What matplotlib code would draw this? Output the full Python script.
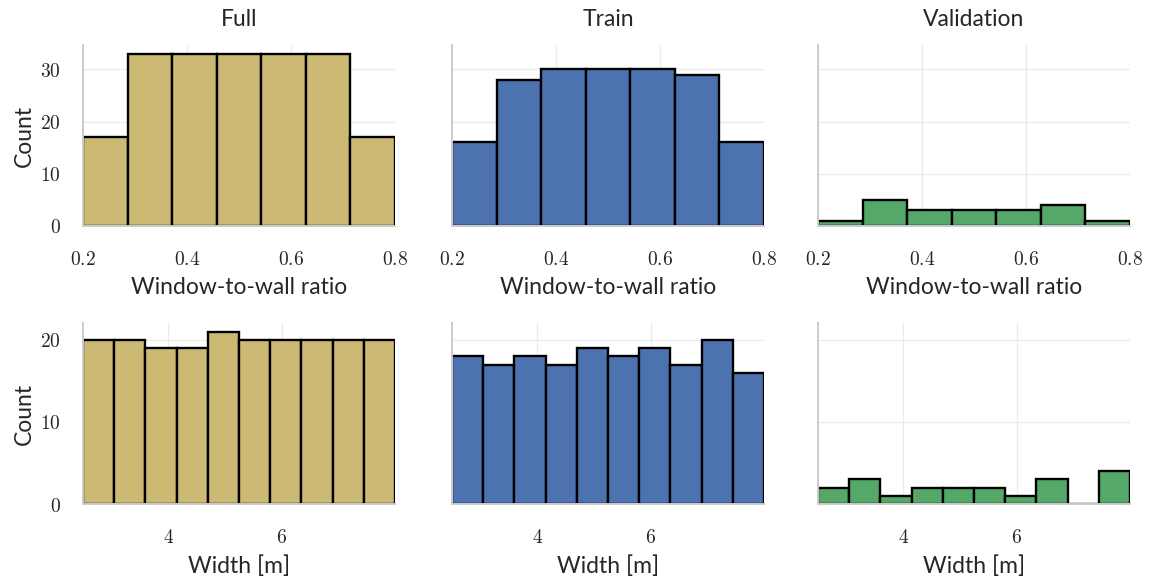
import matplotlib
matplotlib.use('Agg')
import matplotlib.pyplot as plt
import numpy as np

# window-to-wall ratio histograms (7 bins over 0.2 .. 0.8)
wwr_edges = np.linspace(0.2, 0.8, 8)
wwr_full = [17, 33, 33, 33, 33, 33, 17]
wwr_train = [16, 28, 30, 30, 30, 29, 16]
wwr_val = [1, 5, 3, 3, 3, 4, 1]

# width histograms (10 bins over 2.5 .. 8.0 m)
width_edges = np.linspace(2.5, 8.0, 11)
width_full = [20, 20, 19, 19, 21, 20, 20, 20, 20, 20]
width_train = [18, 17, 18, 17, 19, 18, 19, 17, 20, 16]
width_val = [2, 3, 1, 2, 2, 2, 1, 3, 0, 4]

titles = ["Full", "Train", "Validation"]
colors = ["#CCB974", "#4C72B0", "#55A868"]

wwr_xticks = [0.2, 0.4, 0.6, 0.8]
wwr_xticklabels = ["0.2", "0.4", "0.6", "0.8"]
wwr_yticks = [0, 10, 20, 30]
width_xticks = [4, 6]
width_xticklabels = ["4", "6"]
width_yticks = [0, 10, 20]

plt.rcParams['font.family'] = ['Lato', 'DejaVu Sans']
plt.rcParams['mathtext.fontset'] = 'cm'

fig = plt.figure(figsize=(11.51, 5.78), dpi=100)

lefts = [0.0721, 0.3927, 0.7107]
bottoms = [0.609, 0.128]
w, h = 0.2711, 0.313

rows = [
    (wwr_edges, [wwr_full, wwr_train, wwr_val], wwr_xticks, wwr_xticklabels, wwr_yticks, "Window-to-wall ratio"),
    (width_edges, [width_full, width_train, width_val], width_xticks, width_xticklabels, width_yticks, "Width [m]"),
]

for r, (edges, series, xt, xtl, yt, xlabel) in enumerate(rows):
    first = None
    for c in range(3):
        ax = fig.add_axes([lefts[c], bottoms[r], w, h], sharey=first)
        if first is None:
            first = ax
        ax.hist(edges[:-1], bins=edges, weights=series[c], color=colors[c],
                edgecolor='black', linewidth=1.7)
        ax.set_xlim(edges[0], edges[-1])
        ax.set_xticks(xt)
        ax.set_xticklabels(["$%s$" % t for t in xtl], fontsize=14)
        ax.set_yticks(yt)
        ax.set_axisbelow(True)
        ax.grid(True, color='#ebebeb', linewidth=1.0)
        for s in ['top', 'right']:
            ax.spines[s].set_visible(False)
        for s in ['left', 'bottom']:
            ax.spines[s].set_color('#cccccc')
            ax.spines[s].set_linewidth(1.4)
        ax.tick_params(axis='both', length=0, colors='#262626')
        ax.tick_params(axis='x', pad=17)
        ax.tick_params(axis='y', pad=16)
        ax.set_xlabel(xlabel, fontsize=16.5, color='#262626', labelpad=7)
        if c == 0:
            ax.set_yticklabels(["$%d$" % t for t in yt], fontsize=14)
            ax.set_ylabel("Count", fontsize=16.5, color='#262626', labelpad=4)
        else:
            ax.tick_params(axis='y', labelleft=False)
        if r == 0:
            ax.set_title(titles[c], fontsize=16.5, color='#262626', pad=14)

fig.savefig('out.png', dpi=100)
